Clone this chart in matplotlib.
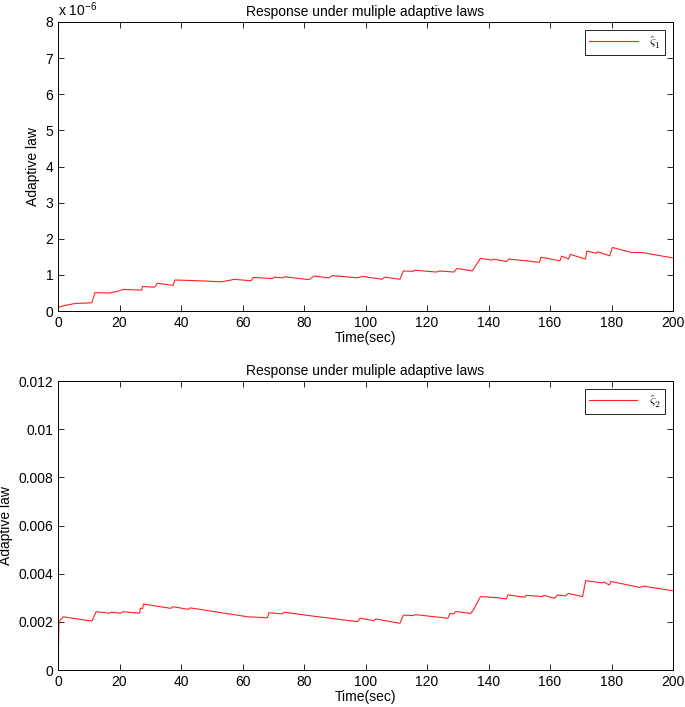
import matplotlib
matplotlib.use("Agg")
import matplotlib.pyplot as plt
from matplotlib.ticker import FuncFormatter

plt.rcParams['font.family'] = ['Liberation Sans', 'DejaVu Sans']
plt.rcParams['font.size'] = 10
plt.rcParams['mathtext.fontset'] = 'cm'

# adaptive law 1 (in units of 1e-6)
t1 = [0, 2, 5.5, 11, 12, 16.8, 19.5, 21.2, 27.2, 27.5, 31.4, 32.3, 37.4, 38,
      45.5, 53.1, 56.4, 57, 62.8, 63.5, 69.8, 70.3, 73, 73.6, 81.6, 83.3, 88.1,
      89.2, 97.4, 99, 105.3, 106.3, 111.2, 112.3, 115.5, 116, 123, 124, 128.7,
      129.8, 134.7, 137.4, 141, 141.5, 145.8, 146.6, 156.6, 157.1, 163.2, 163.8,
      166, 166.6, 171.5, 172, 175, 175.5, 179.4, 180.3, 186.5, 190, 200]
v1 = [0.10, 0.15, 0.21, 0.23, 0.51, 0.50, 0.55, 0.60, 0.58, 0.68, 0.66, 0.77,
      0.71, 0.86, 0.84, 0.81, 0.86, 0.88, 0.84, 0.93, 0.90, 0.94, 0.92, 0.95,
      0.87, 0.97, 0.92, 0.98, 0.92, 0.96, 0.88, 0.94, 0.88, 1.11, 1.10, 1.13,
      1.08, 1.11, 1.08, 1.18, 1.11, 1.46, 1.41, 1.44, 1.37, 1.44, 1.35, 1.49,
      1.39, 1.52, 1.44, 1.57, 1.44, 1.66, 1.60, 1.64, 1.53, 1.76, 1.62, 1.62,
      1.47]

# adaptive law 2
t2 = [0, 0.3, 1.7, 11, 12.4, 16.8, 17.3, 20.4, 21, 26.5, 26.8, 27.5, 27.8,
      36.7, 37.3, 42.4, 43, 61.7, 68.1, 68.6, 72.8, 73.6, 81.6, 97.4, 98.2,
      102.7, 103.3, 111.2, 112.3, 115.5, 116.2, 126.8, 127.5, 128.7, 129.3,
      134.2, 135, 137.4, 143, 145.8, 146.3, 151.8, 152.2, 157.6, 158, 161.5,
      162.4, 165, 166, 170.6, 171.6, 177, 177.5, 179.3, 179.8, 189.1, 190.6,
      200]
v2 = [0.0, 0.00201, 0.00221, 0.00203, 0.00242, 0.00236, 0.00240, 0.00236,
      0.00242, 0.00236, 0.00256, 0.00256, 0.00274, 0.00256, 0.00263, 0.00252,
      0.00258, 0.00221, 0.00217, 0.00238, 0.00233, 0.00240, 0.00226, 0.00201,
      0.00215, 0.00205, 0.00212, 0.00194, 0.00228, 0.00226, 0.00230, 0.00215,
      0.00235, 0.00233, 0.00243, 0.00235, 0.00248, 0.00305, 0.00300, 0.00295,
      0.00312, 0.00302, 0.00310, 0.00305, 0.00310, 0.00298, 0.00312, 0.00308,
      0.00318, 0.00305, 0.00371, 0.00362, 0.00365, 0.00353, 0.00368, 0.00343,
      0.00348, 0.00329]

title = "Response under muliple adaptive laws"

fig = plt.figure(figsize=(6.85, 7.07), dpi=100)
ax1 = fig.add_axes([0.0847, 0.560, 0.8978, 0.4089])
ax2 = fig.add_axes([0.0847, 0.0523, 0.8978, 0.4088])

for ax in (ax1, ax2):
    ax.tick_params(direction='in', top=True, right=True, length=4, width=0.6)
    for s in ax.spines.values():
        s.set_linewidth(0.7)
    ax.set_xlim(0, 200)
    ax.set_xticks(range(0, 201, 20))
    ax.set_title(title, fontsize=10, pad=4)
    ax.set_xlabel("Time(sec)", labelpad=1)
    ax.set_ylabel("Adaptive law", labelpad=4)

ax1.plot(t1, v1, color='#ff2020', lw=0.8, label=r'$\hat{\varsigma}_1$')
ax1.set_ylim(0, 8)
ax1.set_yticks(range(0, 9))
ax1.text(0.0, 1.012, r'x 10$^{\mathregular{-6}}$', transform=ax1.transAxes,
         fontsize=10, ha='left', va='bottom')

ax2.plot(t2, v2, color='#ff2020', lw=0.8, label=r'$\hat{\varsigma}_2$')
ax2.set_ylim(0, 0.012)
ax2.set_yticks([0, 0.002, 0.004, 0.006, 0.008, 0.01, 0.012])
ax2.yaxis.set_major_formatter(FuncFormatter(lambda v, p: '%g' % v))

for ax in (ax1, ax2):
    leg = ax.legend(loc='upper right', fancybox=False, edgecolor='black',
                    framealpha=1, fontsize=10, handlelength=3.5,
                    borderaxespad=0.6, borderpad=0.3)
    leg.get_frame().set_linewidth(0.6)

fig.savefig("out.png", dpi=100)
